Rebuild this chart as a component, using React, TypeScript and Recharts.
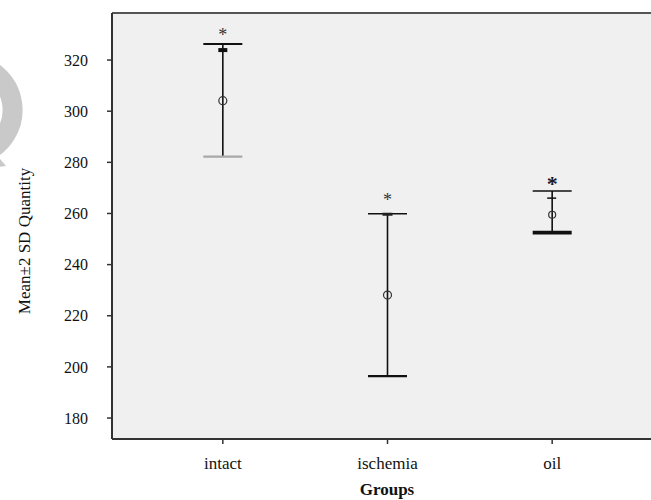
import React from "react";
import {
  ScatterChart,
  Scatter,
  XAxis,
  YAxis,
  CartesianGrid,
  ErrorBar,
  ReferenceLine,
} from "recharts";

// values (mean ± 2 SD)
const groups = ["intact", "ischemia", "oil"];
const means = [304.1, 228.1, 259.5];
const upper = [326.3, 259.9, 268.8];
const lower = [282.2, 196.4, 252.5];
const innerMarks = [323.9, 259.7, 266.0];
const outliers = [331.0, 266.3, 273.0];
const yTicks = [180, 200, 220, 240, 260, 280, 300, 320];

const yDomain = [171.8, 338.4];
const xDomain = [0.327, 3.673];

const FONT = "'Liberation Serif', 'Times New Roman', serif";

const meanData = groups.map((g, i) => ({
  x: i + 1,
  y: means[i],
  err: [means[i] - lower[i], upper[i] - means[i]],
}));
const upperData = groups.map((g, i) => ({ x: i + 1, y: upper[i] }));
const lowerData = groups.map((g, i) => ({ x: i + 1, y: lower[i] }));
const markData = groups.map((g, i) => ({ x: i + 1, y: innerMarks[i] }));
const starData = groups.map((g, i) => ({ x: i + 1, y: outliers[i] }));

// per-group look of the caps
const upperStyle = [
  { stroke: "#111", width: 2 },
  { stroke: "#111", width: 1.6 },
  { stroke: "#111", width: 1.6 },
];
const lowerStyle = [
  { stroke: "#a8a8a8", width: 2.2 },
  { stroke: "#111", width: 2.2 },
  { stroke: "#111", width: 3.6 },
];

const HALF = 19.5;

const Cap = (styles: { stroke: string; width: number }[]) => (props: any) => {
  const { cx, cy, payload } = props;
  const s = styles[payload.x - 1];
  return (
    <line
      x1={cx - HALF}
      x2={cx + HALF}
      y1={cy}
      y2={cy}
      stroke={s.stroke}
      strokeWidth={s.width}
    />
  );
};

const Mark = (props: any) => {
  const { cx, cy, payload } = props;
  const i = payload.x - 1;
  if (i === 0) return <rect x={cx - 4.5} y={cy - 2} width={9} height={4} fill="#111" />;
  if (i === 1) return <rect x={cx - 5} y={cy - 1.5} width={10} height={3} fill="#222" />;
  return <line x1={cx - 5} x2={cx + 4} y1={cy} y2={cy} stroke="#111" strokeWidth={1.5} />;
};

const Star = (props: any) => {
  const { cx, cy, payload } = props;
  const big = payload.x === 3;
  const fs = big ? 22 : 18;
  return (
    <text
      x={cx}
      y={cy + fs * 0.5}
      textAnchor="middle"
      fontFamily={FONT}
      fontSize={fs}
      fontWeight={big ? "bold" : "normal"}
      fill={big ? "#1a1a2e" : "#333"}
    >
      *
    </text>
  );
};

const MeanDot = (props: any) => {
  const { cx, cy, payload } = props;
  const r = payload.x === 3 ? 3.5 : 4;
  return <circle cx={cx} cy={cy} r={r} fill="none" stroke="#333" strokeWidth={1.2} />;
};

export default function App() {
  return (
    <div
      style={{
        position: "absolute",
        left: 0,
        top: 0,
        width: 651,
        height: 500,
        overflow: "hidden",
        background: "#fff",
      }}
    >
      {/* faint watermark at the left edge */}
      <svg width={60} height={200} style={{ position: "absolute", left: 0, top: 0 }}>
        <path
          d="M -34 64 A 46 46 0 0 1 -20 154"
          fill="none"
          stroke="#c9c9c9"
          strokeWidth={20}
        />
        <path d="M -16 140 L 6 166 L -8 168 Z" fill="#c9c9c9" />
      </svg>
      <ScatterChart
        width={680}
        height={500}
        margin={{ top: 13, right: 17, left: 0, bottom: 0 }}
        style={{ position: "absolute", left: 0, top: 0 }}
      >
        <CartesianGrid fill="#f0f0f0" horizontal={false} vertical={false} />
        <XAxis
          dataKey="x"
          type="number"
          domain={xDomain}
          ticks={[1, 2, 3]}
          tickFormatter={(v) => groups[v - 1]}
          allowDataOverflow
          height={61}
          axisLine={{ stroke: "#333", strokeWidth: 2 }}
          tickLine={{ stroke: "#333", strokeWidth: 1.5 }}
          tickSize={5}
          tickMargin={13}
          tick={{ fill: "#111", fontSize: 17, fontFamily: FONT }}
          label={{
            content: () => (
              <text
                x={387}
                y={495}
                textAnchor="middle"
                fontFamily={FONT}
                fontSize={17}
                fontWeight="bold"
                fill="#111"
              >
                Groups
              </text>
            ),
          }}
        />
        <YAxis
          dataKey="y"
          type="number"
          domain={yDomain}
          ticks={yTicks}
          allowDataOverflow
          width={112}
          axisLine={{ stroke: "#333", strokeWidth: 2 }}
          tickLine={{ stroke: "#333", strokeWidth: 1.5 }}
          tickSize={5}
          tickMargin={19}
          tick={{ fill: "#111", fontSize: 16, fontFamily: FONT }}
          label={{
            content: () => (
              <text
                x={30}
                y={241}
                transform="rotate(-90 30 241)"
                textAnchor="middle"
                fontFamily={FONT}
                fontSize={17}
                fill="#111"
              >
                Mean±2 SD Quantity
              </text>
            ),
          }}
        />
        <ReferenceLine y={yDomain[1]} stroke="#555" strokeWidth={2} />
        <Scatter data={meanData} shape={MeanDot} isAnimationActive={false}>
          <ErrorBar
            dataKey="err"
            direction="y"
            width={0}
            stroke="#111"
            strokeWidth={1.6}
            isAnimationActive={false}
          />
        </Scatter>
        <Scatter data={upperData} shape={Cap(upperStyle)} isAnimationActive={false} />
        <Scatter data={lowerData} shape={Cap(lowerStyle)} isAnimationActive={false} />
        <Scatter data={markData} shape={Mark} isAnimationActive={false} />
        <Scatter data={starData} shape={Star} isAnimationActive={false} />
      </ScatterChart>
    </div>
  );
}
